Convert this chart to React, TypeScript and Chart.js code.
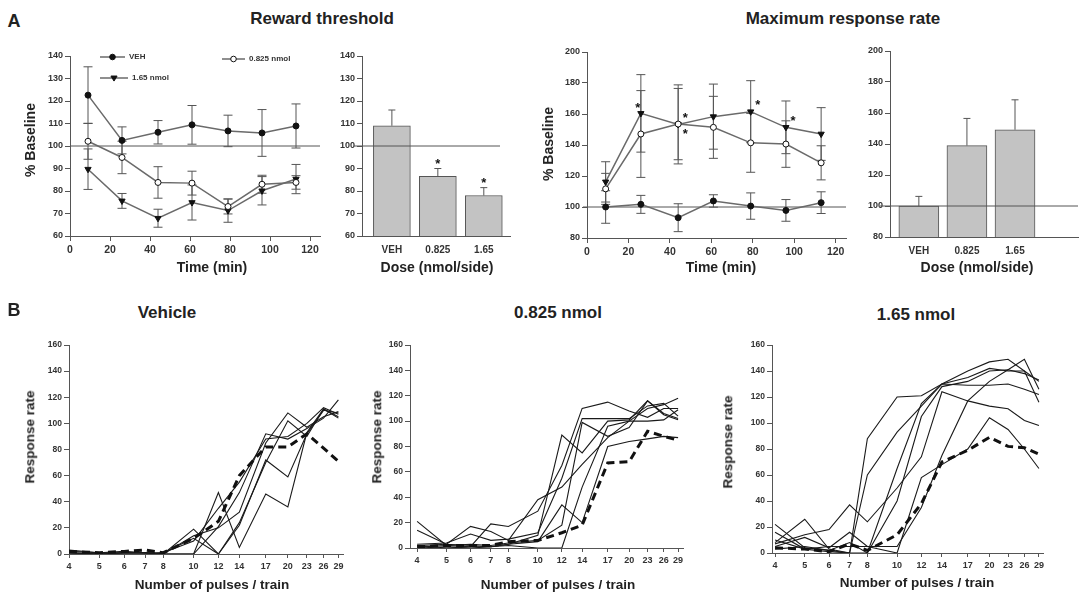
import React, { useEffect, useRef } from "react";
import { Chart, registerables } from "chart.js";

Chart.register(...registerables);

const FONT = "'Liberation Sans', Arial, Helvetica, sans-serif";
Chart.defaults.font.family = FONT;

// ---------------- Panel A data ----------------
const timeMin = [9, 26, 44, 61, 79, 96, 113];
const timeTicks = [0, 20, 40, 60, 80, 100, 120];
const thrTicks = [60, 70, 80, 90, 100, 110, 120, 130, 140];
const rateTicks = [80, 100, 120, 140, 160, 180, 200];

const thrVEH = [122.6, 102.5, 106.1, 109.4, 106.7, 105.8, 108.9];
const thrVEHErr = [12.6, 6, 5.2, 8.6, 7, 10.4, 9.8];
const thrLow = [102.1, 94.9, 83.8, 83.5, 73.1, 83.0, 83.8];
const thrLowErr = [8, 7.2, 7, 5.3, 3.3, 4, 3];
const thrHigh = [89.7, 75.6, 67.9, 74.9, 71.3, 80.1, 85.3];
const thrHighErr = [9, 3.3, 4, 7.8, 5.2, 6.3, 6.5];

const doseLabels = ["VEH", "0.825", "1.65"];
const thrBar = [109, 86.5, 78];
const thrBarErr = [7, 3.5, 3.5];
const thrBarSig = [false, true, true];

const rateVEH = [100, 101.7, 93.1, 103.9, 100.6, 97.8, 102.8];
const rateVEHErr = [10.5, 5.8, 9, 4, 8.5, 7, 7];
const rateLow = [111.7, 147.1, 153.5, 151.4, 141.4, 140.6, 128.5];
const rateLowErr = [10, 28, 23, 20, 19, 15, 11];
const rateHigh = [116.2, 160.4, 153.3, 158.3, 161.5, 151.4, 147.1];
const rateHighErr = [13, 25, 25.5, 21, 20, 17, 17];
const rateHighSigLeft = [false, true, false, false, false, false, false];
const rateHighSigRight = [false, false, true, false, true, true, false];
const rateLowSig = [false, false, true, false, false, false, false];

const rateBar = [100, 139, 149.2];
const rateBarErr = [6.2, 17.5, 19.3];
const rateBarSig = [false, false, false];

// ---------------- Panel B data ----------------
const pulses = [4, 5, 6, 7, 8, 10, 12, 14, 17, 20, 23, 26, 29];
const responseTicks = [0, 20, 40, 60, 80, 100, 120, 140, 160];

const vehicleRef = [2, 1, 2, 3, 1, 12, 25, 60, 82, 82, 92, 81, 71];
const vehicleRuns = [
  [1, 0, 1, 1, 0, 19, 0, 22, 72, 59, 92, 110, 108],
  [2, 1, 1, 1, 0, 0, 47, 5, 46, 36, 93, 111, 104],
  [0, 0, 0, 0, 0, 0, 21, 47, 92, 88, 96, 104, 118],
  [1, 0, 1, 1, 0, 14, 20, 32, 85, 108, 97, 105, 109],
  [3, 1, 2, 1, 1, 12, 0, 24, 70, 102, 90, 111, 105],
  [0, 0, 0, 0, 1, 10, 35, 55, 88, 90, 100, 112, 107],
];

const lowRef = [1, 2, 2, 2, 5, 6, 12, 18, 67, 68, 92, 88, 85];
const lowRuns = [
  [21, 2, 3, 2, 4, 6, 18, 99, 88, 95, 116, 105, 101],
  [14, 3, 2, 1, 3, 5, 34, 20, 80, 84, 86, 88, 87],
  [2, 3, 17, 13, 6, 38, 48, 66, 87, 100, 110, 113, 118],
  [1, 2, 1, 19, 17, 29, 65, 110, 115, 108, 103, 110, 110],
  [0, 1, 0, 1, 3, 10, 89, 75, 100, 101, 116, 106, 102],
  [2, 0, 1, 1, 2, 0, 0, 48, 96, 100, 100, 101, 109],
  [3, 4, 11, 6, 7, 12, 55, 102, 102, 102, 112, 114, 104],
];

const highRef = [4, 3, 1, 7, 2, 14, 38, 70, 79, 89, 82, 81, 76];
const highRuns = [
  [22, 4, 2, 0, 0, 65, 115, 130, 140, 147, 149, 140, 132],
  [16, 3, 1, 0, 88, 120, 121, 130, 129, 129, 130, 126, 122],
  [8, 26, 3, 0, 60, 93, 113, 130, 135, 142, 140, 140, 116],
  [7, 14, 18, 37, 24, 50, 74, 124, 117, 113, 111, 102, 98],
  [5, 12, 4, 16, 5, 0, 58, 68, 80, 104, 95, 80, 65],
  [3, 5, 2, 8, 0, 40, 105, 128, 132, 140, 141, 138, 133],
  [10, 3, 5, 5, 5, 5, 35, 75, 117, 132, 141, 149, 126],
];

// ---------------- plugins ----------------
function drawMarker(ctx: CanvasRenderingContext2D, kind: string, x: number, y: number, r: number) {
  ctx.save();
  ctx.beginPath();
  if (kind === "tri") {
    ctx.moveTo(x - r * 1.1, y - r * 0.7);
    ctx.lineTo(x + r * 1.1, y - r * 0.7);
    ctx.lineTo(x, y + r * 1.1);
    ctx.closePath();
  } else {
    ctx.arc(x, y, r, 0, Math.PI * 2);
  }
  ctx.fillStyle = kind === "open" ? "#fff" : "#111";
  ctx.fill();
  ctx.strokeStyle = "#111";
  ctx.lineWidth = 1;
  ctx.stroke();
  ctx.restore();
}

function drawErrors(chart: any, upOnly: boolean, cap: number) {
  const ctx = chart.ctx;
  const ys = chart.scales.y;
  chart.data.datasets.forEach((ds: any, i: number) => {
    if (!ds.errs || !!ds.errUp !== upOnly) return;
    const meta = chart.getDatasetMeta(i);
    meta.data.forEach((el: any, j: number) => {
      const v = ds.data[j].y;
      const e = ds.errs[j];
      const x = el.x;
      const yTop = ys.getPixelForValue(v + e);
      const yBot = upOnly ? ys.getPixelForValue(v) : ys.getPixelForValue(v - e);
      ctx.save();
      ctx.strokeStyle = "#555";
      ctx.lineWidth = 1;
      ctx.beginPath();
      ctx.moveTo(x, yTop);
      ctx.lineTo(x, yBot);
      ctx.moveTo(x - cap / 2, yTop);
      ctx.lineTo(x + cap / 2, yTop);
      if (!upOnly) {
        ctx.moveTo(x - cap / 2, yBot);
        ctx.lineTo(x + cap / 2, yBot);
      }
      ctx.stroke();
      ctx.restore();
    });
  });
}

const errorBarPlugin = {
  id: "errBars",
  beforeDatasetsDraw(chart: any, _a: any, opts: any) {
    drawErrors(chart, false, opts.cap || 8);
  },
  afterDatasetsDraw(chart: any, _a: any, opts: any) {
    drawErrors(chart, true, opts.cap || 8);
  },
};

function drawRef(chart: any, opts: any) {
  if (opts.value == null) return;
  const ctx = chart.ctx;
  const { left, right } = chart.chartArea;
  const y = chart.scales.y.getPixelForValue(opts.value);
  ctx.save();
  ctx.strokeStyle = "#555";
  ctx.lineWidth = 1;
  ctx.beginPath();
  ctx.moveTo(left - (opts.extL || 0), y);
  ctx.lineTo(right - (opts.trimR || 0), y);
  ctx.stroke();
  ctx.restore();
}

const refLinePlugin = {
  id: "refLine",
  beforeDatasetsDraw(chart: any, _a: any, opts: any) {
    if (!opts.onTop) drawRef(chart, opts);
  },
  afterDatasetsDraw(chart: any, _a: any, opts: any) {
    if (opts.onTop) drawRef(chart, opts);
  },
};

const starPlugin = {
  id: "stars",
  afterDatasetsDraw(chart: any, _a: any, opts: any) {
    const ctx = chart.ctx;
    const ys = chart.scales.y;
    (opts.sets || []).forEach((s: any) => {
      const ds = chart.data.datasets[s.ds];
      const meta = chart.getDatasetMeta(s.ds);
      s.flags.forEach((f: boolean, j: number) => {
        if (!f) return;
        const el = meta.data[j];
        let y: number;
        if (s.aboveErr) y = ys.getPixelForValue(ds.data[j].y + ds.errs[j]) - 7;
        else y = el.y + s.dy;
        ctx.save();
        ctx.fillStyle = "#111";
        ctx.font = `bold 13px ${FONT}`;
        ctx.textAlign = "center";
        ctx.textBaseline = "middle";
        ctx.fillText("*", el.x + (s.dx || 0), y + 3);
        ctx.restore();
      });
    });
  },
};

const keyPlugin = {
  id: "keyBox",
  afterDatasetsDraw(chart: any, _a: any, opts: any) {
    const ctx = chart.ctx;
    const { left, top } = chart.chartArea;
    (opts.items || []).forEach((it: any) => {
      const y = top + it.dy;
      ctx.save();
      ctx.strokeStyle = "#6a6a6a";
      ctx.lineWidth = 1.5;
      ctx.beginPath();
      ctx.moveTo(left + it.x0, y);
      ctx.lineTo(left + it.x1, y);
      ctx.stroke();
      drawMarker(ctx, it.kind, left + (it.x0 + it.x1) / 2, y, 2.8);
      ctx.fillStyle = "#333";
      ctx.font = `bold 8px ${FONT}`;
      ctx.textBaseline = "middle";
      ctx.fillText(it.label, left + it.x1 + 4, y);
      ctx.restore();
    });
  },
};

// ---------------- helpers ----------------
const PT = 10;
const X_H = 24;
const Y_W = 40;

function yAxis(min: number, max: number, ticks: number[], size: number) {
  return {
    type: "linear",
    min,
    max,
    afterBuildTicks: (s: any) => {
      s.ticks = ticks.map((v) => ({ value: v }));
    },
    afterFit: (s: any) => {
      s.width = Y_W;
    },
    ticks: { font: { family: FONT, size, weight: "bold" }, color: "#333", padding: 2, autoSkip: false },
    grid: { drawOnChartArea: false, tickLength: 5, color: "#555" },
    border: { color: "#555", width: 1 },
  };
}

function xAxisLinear(min: number, max: number, ticks: number[], size: number) {
  return {
    type: "linear",
    min,
    max,
    offset: false,
    afterBuildTicks: (s: any) => {
      s.ticks = ticks.map((v) => ({ value: v }));
    },
    afterFit: (s: any) => {
      s.height = X_H;
    },
    ticks: { font: { family: FONT, size, weight: "bold" }, color: "#333", padding: 3, autoSkip: false, maxRotation: 0 },
    grid: { drawOnChartArea: false, tickLength: 5, color: "#555", offset: false },
    border: { color: "#555", width: 1 },
  };
}

function xAxisDose(min: number, max: number) {
  return {
    type: "linear",
    min,
    max,
    offset: false,
    afterBuildTicks: (s: any) => {
      s.ticks = doseLabels.map((_, i) => ({ value: i + 1 }));
    },
    afterFit: (s: any) => {
      s.height = X_H;
    },
    ticks: {
      font: { family: FONT, size: 10, weight: "bold" },
      color: "#333",
      padding: 8,
      autoSkip: false,
      maxRotation: 0,
      callback: (v: number) => doseLabels[Math.round(v) - 1] ?? "",
    },
    grid: { drawOnChartArea: false, drawTicks: false, offset: false },
    border: { color: "#555", width: 1 },
  };
}

function xAxisLog(min: number, max: number) {
  return {
    type: "logarithmic",
    min,
    max,
    afterBuildTicks: (s: any) => {
      s.ticks = pulses.map((v) => ({ value: v }));
    },
    afterFit: (s: any) => {
      s.height = X_H;
    },
    ticks: {
      font: { family: FONT, size: 9, weight: "bold" },
      color: "#333",
      padding: 3,
      autoSkip: false,
      maxRotation: 0,
      callback: (v: number) => String(v),
    },
    grid: { drawOnChartArea: false, tickLength: 4, color: "#555" },
    border: { color: "#555", width: 1 },
  };
}

function baseOptions(pr: number, plugins: any, scales: any) {
  return {
    responsive: false,
    maintainAspectRatio: false,
    animation: false,
    events: [],
    layout: { padding: { top: PT, right: pr, left: 0, bottom: 0 } },
    plugins: { legend: { display: false }, tooltip: { enabled: false }, ...plugins },
    scales,
  };
}

function timeSeries(vals: number[], errs: number[], style: string, fill: string, rot = 0) {
  return {
    data: timeMin.map((t, i) => ({ x: t, y: vals[i] })),
    errs,
    borderColor: "#6a6a6a",
    borderWidth: 1.5,
    pointStyle: style,
    rotation: rot,
    pointRadius: style === "triangle" ? 3.6 : 3,
    pointBackgroundColor: fill,
    pointBorderColor: "#111",
    pointBorderWidth: 1,
    fill: false,
    tension: 0,
  };
}

function barSeries(vals: number[], errs: number[], thickness: number) {
  return {
    data: vals.map((v, i) => ({ x: i + 1, y: v })),
    errs,
    errUp: true,
    backgroundColor: "#c3c3c3",
    borderColor: "#555",
    borderWidth: 1,
    barThickness: thickness,
  };
}

function pulseDatasets(ref: number[], runs: number[][]) {
  return [
    {
      data: pulses.map((p, i) => ({ x: p, y: ref[i] })),
      borderColor: "#111",
      borderWidth: 3,
      borderDash: [8, 5],
      pointRadius: 0,
      fill: false,
      tension: 0,
    },
    ...runs.map((r) => ({
      data: pulses.map((p, i) => ({ x: p, y: r[i] })),
      borderColor: "#1a1a1a",
      borderWidth: 1.1,
      pointRadius: 0,
      fill: false,
      tension: 0,
    })),
  ];
}

// area: left, top, right, bottom of plot area (page px)
function ChartBox({ area, pr, make }: { area: number[]; pr: number; make: () => any }) {
  const ref = useRef<HTMLCanvasElement>(null);
  const [l, t, r, b] = area;
  const left = l - Y_W;
  const top = t - PT;
  const width = r + pr - left;
  const height = b + X_H - top;
  useEffect(() => {
    const chart = new Chart(ref.current as HTMLCanvasElement, make());
    return () => chart.destroy();
  }, []);
  return (
    <div style={{ position: "absolute", left, top, width, height }}>
      <canvas ref={ref} width={width} height={height} style={{ width, height, display: "block" }} />
    </div>
  );
}

function Txt({ x, y, size, children, rot }: { x: number; y: number; size: number; children: any; rot?: boolean }) {
  return (
    <div
      style={{
        position: "absolute",
        left: x,
        top: y,
        transform: `translate(-50%, -50%)${rot ? " rotate(-90deg)" : ""}`,
        fontFamily: FONT,
        fontWeight: "bold",
        fontSize: size,
        lineHeight: 1,
        whiteSpace: "nowrap",
        color: "#222",
      }}
    >
      {children}
    </div>
  );
}

export default function App() {
  useEffect(() => {
    document.body.style.overflow = "hidden";
  }, []);

  const thresholdLine = () => ({
    type: "line",
    data: {
      datasets: [
        timeSeries(thrVEH, thrVEHErr, "circle", "#111"),
        timeSeries(thrLow, thrLowErr, "circle", "#fff"),
        timeSeries(thrHigh, thrHighErr, "triangle", "#111", 180),
      ],
    },
    options: baseOptions(
      10,
      {
        refLine: { value: 100 },
        errBars: { cap: 9 },
        keyBox: {
          items: [
            { label: "VEH", kind: "filled", x0: 30, x1: 55, dy: 1 },
            { label: "1.65 nmol", kind: "tri", x0: 30, x1: 58, dy: 22 },
            { label: "0.825 nmol", kind: "open", x0: 152, x1: 175, dy: 3 },
          ],
        },
      },
      { x: xAxisLinear(0, 125, timeTicks, 10.5), y: yAxis(60, 140, thrTicks, 9) }
    ),
    plugins: [refLinePlugin, errorBarPlugin, keyPlugin],
  });

  const thresholdBar = () => ({
    type: "bar",
    data: { datasets: [barSeries(thrBar, thrBarErr, 37)] },
    options: baseOptions(
      10,
      {
        refLine: { value: 100, onTop: true, extL: 8, trimR: 10 },
        errBars: { cap: 7 },
        stars: { sets: [{ ds: 0, flags: thrBarSig, aboveErr: true }] },
      },
      { x: xAxisDose(0.35, 3.57), y: yAxis(60, 140, thrTicks, 9) }
    ),
    plugins: [refLinePlugin, errorBarPlugin, starPlugin],
  });

  const rateLine = () => ({
    type: "line",
    data: {
      datasets: [
        timeSeries(rateVEH, rateVEHErr, "circle", "#111"),
        timeSeries(rateLow, rateLowErr, "circle", "#fff"),
        timeSeries(rateHigh, rateHighErr, "triangle", "#111", 180),
      ],
    },
    options: baseOptions(
      10,
      {
        refLine: { value: 100, extL: 4 },
        errBars: { cap: 9 },
        stars: {
          sets: [
            { ds: 2, flags: rateHighSigLeft, dx: -3, dy: -8 },
            { ds: 2, flags: rateHighSigRight, dx: 7, dy: -9 },
            { ds: 1, flags: rateLowSig, dx: 7, dy: 7 },
          ],
        },
      },
      { x: xAxisLinear(0, 125, timeTicks, 10.5), y: yAxis(80, 200, rateTicks, 9) }
    ),
    plugins: [refLinePlugin, errorBarPlugin, starPlugin],
  });

  const rateBarChart = () => ({
    type: "bar",
    data: { datasets: [barSeries(rateBar, rateBarErr, 40)] },
    options: baseOptions(
      2,
      {
        refLine: { value: 100, onTop: true, extL: 10 },
        errBars: { cap: 7 },
        stars: { sets: [{ ds: 0, flags: rateBarSig, aboveErr: true }] },
      },
      { x: xAxisDose(0.4, 4.31), y: yAxis(80, 200, rateTicks, 9) }
    ),
    plugins: [refLinePlugin, errorBarPlugin, starPlugin],
  });

  const pulseChart = (ref: number[], runs: number[][], min: number, max: number) => () => ({
    type: "line",
    data: { datasets: pulseDatasets(ref, runs) },
    options: baseOptions(10, {}, { x: xAxisLog(min, max), y: yAxis(0, 160, responseTicks, 8.5) }),
  });

  return (
    <div>
      <Txt x={14} y={21} size={18}>A</Txt>
      <Txt x={322} y={18} size={17}>Reward threshold</Txt>
      <Txt x={843} y={18} size={17}>Maximum response rate</Txt>

      <ChartBox area={[70, 56, 320, 236]} pr={10} make={thresholdLine} />
      <ChartBox area={[362, 56, 510, 236]} pr={10} make={thresholdBar} />
      <ChartBox area={[587, 52, 846, 238]} pr={10} make={rateLine} />
      <ChartBox area={[890, 51, 1078, 237]} pr={2} make={rateBarChart} />

      <Txt x={30} y={140} size={14} rot>% Baseline</Txt>
      <Txt x={548} y={144} size={14} rot>% Baseline</Txt>
      <Txt x={212} y={267} size={14}>Time (min)</Txt>
      <Txt x={437} y={267} size={14}>Dose (nmol/side)</Txt>
      <Txt x={721} y={267} size={14}>Time (min)</Txt>
      <Txt x={977} y={267} size={14}>Dose (nmol/side)</Txt>

      <Txt x={14} y={310} size={18}>B</Txt>
      <Txt x={167} y={312} size={17}>Vehicle</Txt>
      <Txt x={558} y={312} size={17}>0.825 nmol</Txt>
      <Txt x={916} y={314} size={17}>1.65 nmol</Txt>

      <ChartBox area={[69, 345, 343, 554]} pr={10} make={pulseChart(vehicleRef, vehicleRuns, 4, 30)} />
      <ChartBox area={[410, 345, 683, 548]} pr={10} make={pulseChart(lowRef, lowRuns, 3.79, 30.1)} />
      <ChartBox area={[772, 345, 1043, 553]} pr={10} make={pulseChart(highRef, highRuns, 3.91, 29.9)} />

      <Txt x={30} y={437} size={13.5} rot>Response rate</Txt>
      <Txt x={377} y={437} size={13.5} rot>Response rate</Txt>
      <Txt x={728} y={442} size={13.5} rot>Response rate</Txt>
      <Txt x={212} y={585} size={13.5}>Number of pulses / train</Txt>
      <Txt x={558} y={585} size={13.5}>Number of pulses / train</Txt>
      <Txt x={917} y={583} size={13.5}>Number of pulses / train</Txt>
    </div>
  );
}
